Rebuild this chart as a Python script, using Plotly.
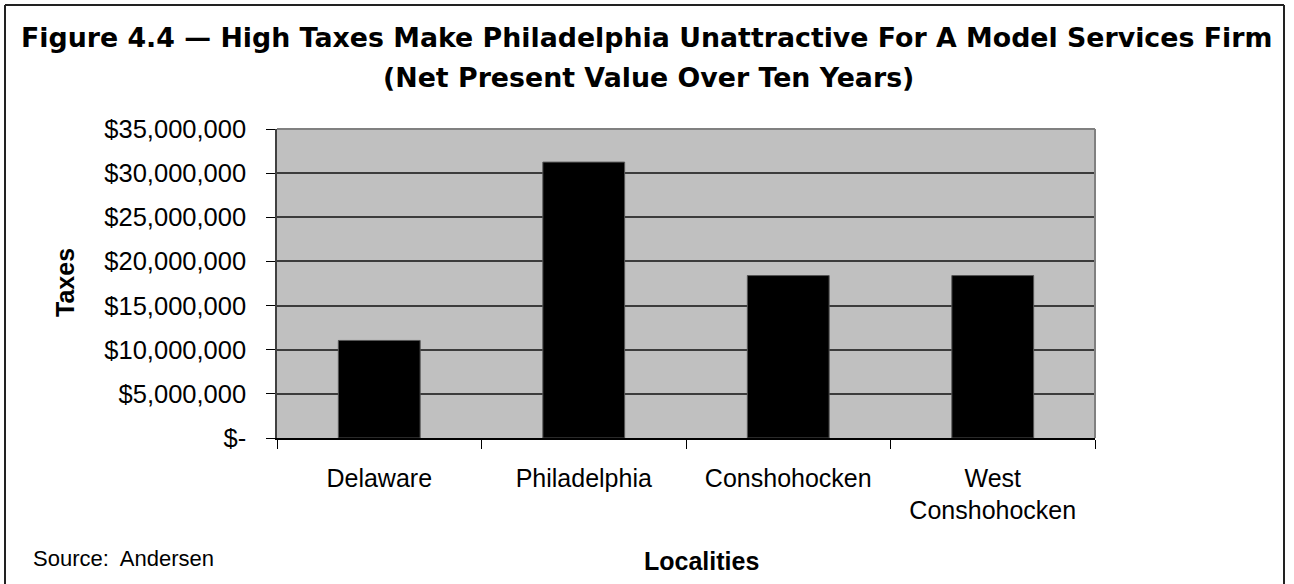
import plotly.graph_objects as go

# Ten-year net present value of taxes for a model services firm
localities = ["Delaware", "Philadelphia", "Conshohocken", "West<br>Conshohocken"]
taxes = [11_050_000, 31_250_000, 18_400_000, 18_400_000]

tick_values = [0, 5_000_000, 10_000_000, 15_000_000, 20_000_000, 25_000_000, 30_000_000, 35_000_000]
tick_labels = ["$-", "$5,000,000", "$10,000,000", "$15,000,000", "$20,000,000",
               "$25,000,000", "$30,000,000", "$35,000,000"]

W, H = 1294, 584
L, R, T, B = 277, 199, 129, 146
PW, PH = W - L - R, H - T - B


def px(x):
    return (x - L) / PW


def py(y):
    return (H - B - y) / PH


SANS = "Liberation Sans, Arial, sans-serif"
TITLE_FONT = "DejaVu Sans, Verdana, sans-serif"

fig = go.Figure(
    go.Bar(
        x=localities,
        y=taxes,
        marker=dict(color="#000000", line=dict(color="#555555", width=1)),
        hoverinfo="x+y",
    )
)

fig.update_layout(
    width=W,
    height=H,
    margin=dict(l=L, r=R, t=T, b=B, pad=0),
    paper_bgcolor="#ffffff",
    plot_bgcolor="#c0c0c0",
    showlegend=False,
    bargap=0.6,
    font=dict(family=SANS, size=24, color="#000000"),
)

fig.update_xaxes(
    type="category",
    showgrid=False,
    showline=True,
    linecolor="#000000",
    linewidth=1.5,
    ticks="outside",
    tickson="boundaries",
    ticklen=9,
    tickcolor="#000000",
    tickwidth=1,
    ticklabelstandoff=17,
    tickfont=dict(family=SANS, size=25, color="#000000"),
)

fig.update_yaxes(
    range=[0, 35_000_000],
    tickvals=tick_values,
    ticktext=tick_labels,
    showgrid=True,
    gridcolor="#3c3c3c",
    gridwidth=1.5,
    zeroline=False,
    showline=True,
    linecolor="#404040",
    linewidth=1.5,
    ticks="outside",
    ticklen=9,
    tickcolor="#000000",
    tickwidth=1,
    ticklabelstandoff=15,
    tickfont=dict(family=SANS, size=25.5, color="#000000"),
)

shapes = [
    # gray frame on the top and right of the plotting area
    dict(type="line", xref="paper", yref="paper", x0=0, x1=1, y0=1, y1=1,
         line=dict(color="#808080", width=2)),
    dict(type="line", xref="paper", yref="paper", x0=1, x1=1, y0=0, y1=1,
         line=dict(color="#808080", width=2)),
    # outer border of the figure panel
    dict(type="line", xref="paper", yref="paper", x0=px(5), x1=px(5), y0=py(5), y1=py(600),
         line=dict(color="#222222", width=2)),
    dict(type="line", xref="paper", yref="paper", x0=px(5), x1=px(1284), y0=py(5), y1=py(5),
         line=dict(color="#222222", width=2)),
    dict(type="line", xref="paper", yref="paper", x0=px(1284), x1=px(1284), y0=py(5), y1=py(600),
         line=dict(color="#222222", width=2)),
]

annotations = [
    dict(text="<b>Figure 4.4 — High Taxes Make Philadelphia Unattractive For A Model Services Firm</b>",
         x=px(646), y=py(37), xref="paper", yref="paper", xanchor="center", yanchor="middle",
         showarrow=False, font=dict(family=TITLE_FONT, size=26.8, color="#000000")),
    dict(text="<b>(Net Present Value Over Ten Years)</b>",
         x=px(648), y=py(77), xref="paper", yref="paper", xanchor="center", yanchor="middle",
         showarrow=False, font=dict(family=TITLE_FONT, size=26.8, color="#000000")),
    dict(text="<b>Taxes</b>", textangle=-90,
         x=px(65), y=py(283), xref="paper", yref="paper", xanchor="center", yanchor="middle",
         showarrow=False, font=dict(family=SANS, size=25, color="#000000")),
    dict(text="<b>Localities</b>",
         x=px(701), y=py(561), xref="paper", yref="paper", xanchor="center", yanchor="middle",
         showarrow=False, font=dict(family=SANS, size=25, color="#000000")),
    dict(text="Source:  Andersen",
         x=px(31), y=py(558), xref="paper", yref="paper", xanchor="left", yanchor="middle",
         showarrow=False, font=dict(family=SANS, size=22, color="#000000")),
]

fig.update_layout(shapes=shapes, annotations=annotations)

fig.write_html("out.html")
